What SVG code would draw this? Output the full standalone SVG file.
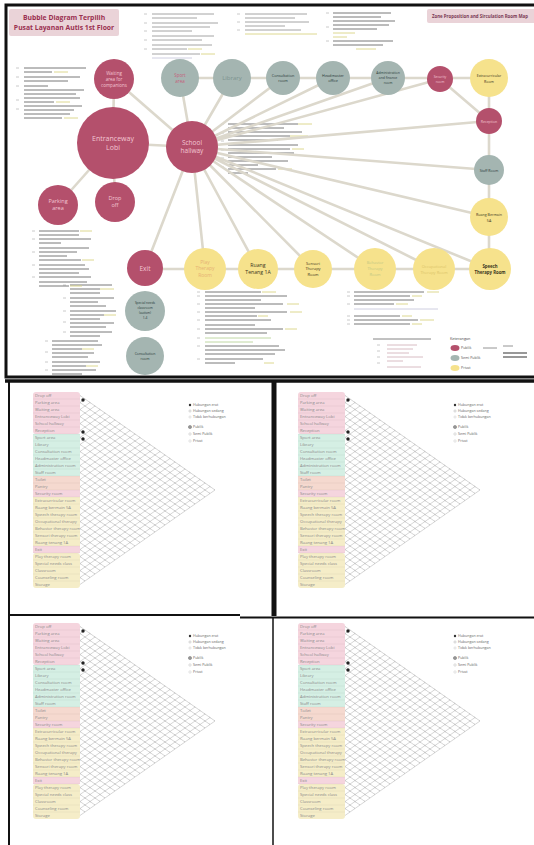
<svg xmlns="http://www.w3.org/2000/svg" width="534" height="845" viewBox="0 0 534 845">
<style>
.c{stroke:#dcd8cc;stroke-width:2.6;fill:none;stroke-linecap:round}
.pk{fill:#b4506c}
.gr{fill:#a4b5b1}
.yl{fill:#f6e28c}
text{font-family:"Open Sans","Liberation Sans",sans-serif;text-anchor:middle}
.tp{fill:#f3c6d3}
.tg{fill:#2b3b39}
.ty{fill:#3a3520}
.mt{stroke:#9a9a9a;stroke-width:0.9;fill:none}
.md{stroke:#6a6a6a;stroke-width:0.9;fill:none}
.mn{stroke:#c4c4c4;stroke-width:0.9;fill:none}
.hl{stroke:#d9d483;stroke-width:0.9;fill:none}
.ml{font-size:4.2px;fill:#8a8a8a;text-anchor:start}
.lg{font-size:3.6px;fill:#666;text-anchor:start}
</style>
<defs>
<g id="mx">
<rect x="33" y="392" width="47" height="42" rx="3" fill="#f5d5de"/>
<rect x="33" y="434" width="47" height="42" fill="#d5efe4"/>
<rect x="33" y="476" width="47" height="14" fill="#f5d9cf"/>
<rect x="33" y="490" width="47" height="7" fill="#f5d5de"/>
<rect x="33" y="497" width="47" height="49" fill="#f5edc8"/>
<rect x="33" y="546" width="47" height="7" fill="#f5d5de"/>
<rect x="33" y="553" width="47" height="35" rx="3" fill="#f5edc8"/>
<path d="M33 399h47M33 406h47M33 413h47M33 420h47M33 427h47M33 434h47M33 441h47M33 448h47M33 455h47M33 462h47M33 469h47M33 476h47M33 483h47M33 490h47M33 497h47M33 504h47M33 511h47M33 518h47M33 525h47M33 532h47M33 539h47M33 546h47M33 553h47M33 560h47M33 567h47M33 574h47M33 581h47" stroke="#000" stroke-opacity="0.08" stroke-width="0.5"/>
<text class="ml" x="35" y="397">Drop off</text>
<text class="ml" x="35" y="404">Parking area</text>
<text class="ml" x="35" y="411">Waiting area</text>
<text class="ml" x="35" y="418">Entranceway Lobi</text>
<text class="ml" x="35" y="425">School hallway</text>
<text class="ml" x="35" y="432">Reception</text>
<text class="ml" x="35" y="439">Sport area</text>
<text class="ml" x="35" y="446">Library</text>
<text class="ml" x="35" y="453">Consultation room</text>
<text class="ml" x="35" y="460">Headmaster office</text>
<text class="ml" x="35" y="467">Administration room</text>
<text class="ml" x="35" y="474">Staff room</text>
<text class="ml" x="35" y="481">Toilet</text>
<text class="ml" x="35" y="488">Pantry</text>
<text class="ml" x="35" y="495">Security room</text>
<text class="ml" x="35" y="502">Extracurricular room</text>
<text class="ml" x="35" y="509">Ruang bermain 5A</text>
<text class="ml" x="35" y="516">Speech therapy room</text>
<text class="ml" x="35" y="523">Occupational therapy</text>
<text class="ml" x="35" y="530">Behavior therapy room</text>
<text class="ml" x="35" y="537">Sensori therapy room</text>
<text class="ml" x="35" y="544">Ruang tenang 1A</text>
<text class="ml" x="35" y="551">Exit</text>
<text class="ml" x="35" y="558">Play therapy room</text>
<text class="ml" x="35" y="565">Special needs class</text>
<text class="ml" x="35" y="572">Classroom</text>
<text class="ml" x="35" y="579">Counseling room</text>
<text class="ml" x="35" y="586">Storage</text>
<path d="M80 395.5L215 490M80 402.5L210 493.5M80 409.5L205 497M80 416.5L200 500.5M80 423.5L195 504M80 430.5L190 507.5M80 437.5L185 511M80 444.5L180 514.5M80 451.5L175 518M80 458.5L170 521.5M80 465.5L165 525M80 472.5L160 528.5M80 479.5L155 532M80 486.5L150 535.5M80 493.5L145 539M80 500.5L140 542.5M80 507.5L135 546M80 514.5L130 549.5M80 521.5L125 553M80 528.5L120 556.5M80 535.5L115 560M80 542.5L110 563.5M80 549.5L105 567M80 556.5L100 570.5M80 563.5L95 574M80 570.5L90 577.5M80 577.5L85 581" id="dl" fill="none" stroke="#b4b4b4" stroke-width="0.55"/>
<path id="ul" d="M80 402.5L85 399M80 409.5L90 402.5M80 416.5L95 406M80 423.5L100 409.5M80 430.5L105 413M80 437.5L110 416.5M80 444.5L115 420M80 451.5L120 423.5M80 458.5L125 427M80 465.5L130 430.5M80 472.5L135 434M80 479.5L140 437.5M80 486.5L145 441M80 493.5L150 444.5M80 500.5L155 448M80 507.5L160 451.5M80 514.5L165 455M80 521.5L170 458.5M80 528.5L175 462M80 535.5L180 465.5M80 542.5L185 469M80 549.5L190 472.5M80 556.5L195 476M80 563.5L200 479.5M80 570.5L205 483M80 577.5L210 486.5M80 584.5L215 490" fill="none" stroke="#b4b4b4" stroke-width="0.55"/>
<use href="#dl" stroke="#606060" stroke-width="1" stroke-dasharray="1.6 4.5" stroke-dashoffset="0.8"/>
<circle cx="83" cy="400" r="1.7" fill="#222"/>
<circle cx="83" cy="432" r="1.7" fill="#222"/>
<circle cx="83" cy="439" r="1.7" fill="#222"/>
<circle cx="190" cy="405" r="1.2" fill="#333"/>
<text class="lg" x="193" y="406.3">Hubungan erat</text>
<circle cx="190" cy="411" r="1.1" fill="none" stroke="#999" stroke-width="0.4"/>
<text class="lg" x="193" y="412.3">Hubungan sedang</text>
<circle cx="190" cy="417" r="1.1" fill="none" stroke="#bbb" stroke-width="0.4"/>
<text class="lg" x="193" y="418.3">Tidak berhubungan</text>
<circle cx="190" cy="427" r="1.6" fill="#999" stroke="#555" stroke-width="0.4"/>
<text class="lg" x="193" y="428.3">Publik</text>
<circle cx="190" cy="434" r="1.2" fill="none" stroke="#aaa" stroke-width="0.4"/>
<text class="lg" x="193" y="435.3">Semi Publik</text>
<circle cx="190" cy="441" r="1.2" fill="none" stroke="#bbb" stroke-width="0.4"/>
<text class="lg" x="193" y="442.3">Privat</text>
</g>
</defs>
<rect width="534" height="845" fill="#fff"/>
<rect x="6" y="5" width="532" height="372" fill="#fff" stroke="#111" stroke-width="3"/>
<g id="title">
<rect x="9" y="9" width="110" height="27" rx="2" fill="#ead3d8"/>
<text x="64" y="20" font-size="6.8" font-weight="bold" fill="#9a3050">Bubble Diagram Terpilih</text>
<text x="64" y="30" font-size="6.8" font-weight="bold" fill="#9a3050">Pusat Layanan Autis 1st Floor</text>
</g>
<g id="zone-title">
<rect x="427" y="9" width="110" height="14" rx="2" fill="#ead3d8"/>
<text x="480" y="18" font-size="4.4" font-weight="bold" fill="#7a3a55">Zone Proposition and Sirculation Room Map</text>
</g>
<g id="notes">
<path class="mn" d="M144 14h3M144 23h3M144 31h3M144 40h3M144 49h3M237 14h3M237 22h3M237 30h3M326 13h3M326 27h3M326 41h3M16 68h3M16 77h3M16 86h3M16 100h3M16 109h3M32 231h3M32 239h3M32 252h3M32 265h3M32 277h3M63 285h3M63 298h3M63 311h3M63 322h3M63 332h3M45 341h3M45 352h3M45 362h3M45 370h3M221 124h3M221 133h3M221 141h3M221 150h3M221 158h3M221 167h3M197 292h3M197 296h3M197 304h3M197 312h3M197 320h3M197 329h3M197 338h3M197 346h3M197 359h3M347 292h3M347 296h3M347 304h3M347 316h3M347 320h3M347 324h3M377 345h3M377 351h3M377 357h3M377 363h3"/>
<path class="mt" d="M152 14h62M152 18h45M152 23h66M152 27h58M152 31h40M152 36h62M152 40h50M152 45h60M152 49h35M152 54h48M245 14h62M245 18h50M245 22h64M245 26h40M245 30h56"/>
<path class="md" d="M333 13h58M333 17h48M333 21h62M333 25h56M333 29h44M333 41h60M333 45h50"/>
<path class="md" d="M24 68h62M24 72h28M24 77h56M24 81h44M24 86h24M24 90h60M24 94h52M24 98h56M24 102h30M24 106h58M24 110h50M24 114h46M24 118h38"/>
<path class="md" d="M39 231h40M39 235h40M39 239h52M39 243h22M39 248h50M39 252h38M39 256h28M39 260h42M39 265h46M39 269h50M39 273h40M39 277h52M39 282h48M39 286h30"/>
<path class="md" d="M70 285h42M70 289h30M70 293h30M70 298h44M70 302h28M70 306h36M70 311h46M70 315h34M70 319h30M70 323h44M70 327h36M70 332h42M70 336h30"/>
<path class="md" d="M52 341h46M52 345h50M52 349h30M52 353h42M52 357h36M52 362h48M52 366h34M52 370h44M52 374h30"/>
<path class="md" d="M228 124h70M228 128h56M228 132h74M228 136h62M228 140h50M228 145h70M228 149h62M228 153h66M228 157h44M228 161h60M228 165h30M228 169h48M228 173h20"/>
<path class="md" d="M205 292h56M205 296h82M205 300h56M205 304h78M205 308h50M205 312h82M205 316h52M205 320h66M205 325h50M205 329h78M205 333h62M205 346h74M205 350h80M205 354h70M205 359h58M205 363h30"/>
<path class="md" d="M354 292h70M354 296h56M354 300h60M354 304h40M354 316h46M354 320h64M354 324h56"/>
<path stroke="#b9d49a" stroke-width="0.9" d="M205 338h66M205 342h48"/>
<path stroke="#c8c8dc" stroke-width="0.9" d="M354 309h84M152 58h40"/>
<path class="hl" d="M188 49h14M201 54h14M245 34h72M333 33h22M333 37h14M356 49h20M54 72h14M56 102h14M64 118h14M80 231h12M82 260h12M70 286h12M100 289h14M104 315h12M82 349h12M86 366h12M298 124h14M290 136h18M292 149h12M278 169h14M262 292h14M287 304h12M290 312h12M258 316h10M285 329h12M264 363h10M427 292h12M412 296h10M396 304h12M402 316h10M420 320h14M412 324h10"/>
</g>
<g id="legend">
<path stroke="#777" stroke-width="0.9" d="M373 339h58"/>
<path stroke="#d4b4bc" stroke-width="0.9" d="M387 345h30M387 349h26M387 353h22M387 357h36M387 361h16M387 367h34"/>
<text x="450" y="340" font-size="3.8" fill="#444" style="text-anchor:start">Keterangan</text>
<ellipse cx="455" cy="348" rx="4.5" ry="3" class="pk"/>
<ellipse cx="455" cy="358" rx="4.5" ry="3" class="gr"/>
<ellipse cx="455" cy="368" rx="4.5" ry="3" class="yl"/>
<text x="461" y="349.3" font-size="3.6" fill="#555" style="text-anchor:start">Publik</text>
<text x="461" y="359.3" font-size="3.6" fill="#555" style="text-anchor:start">Semi Publik</text>
<text x="461" y="369.3" font-size="3.6" fill="#555" style="text-anchor:start">Privat</text>
<path stroke="#888" stroke-width="0.9" d="M483 348h14M503 346h10"/>
<path stroke="#333" stroke-width="1.1" d="M503 353h24M503 357h24"/>
</g>
<g id="connectors">
<path class="c" d="M113 143L114 79M113 143L58 205M113 143L115 202M113 143L192 147M114 79L192 147"/>
<path class="c" d="M192 147L180 78M192 147L232 78M192 147L283 78M192 147L333 78M192 147L388 78M192 147L440 79M192 147L489 121M192 147L489 170M192 147L489 217M192 147L490 269M192 147L434 269M192 147L375 269M192 147L313 269M192 147L258 269M192 147L205 269M192 147L145 268"/>
<path class="c" d="M180 78H489M440 79L489 121M489 78V269M145 269H490"/>
</g>
<g id="n-waiting"><circle class="pk" cx="114" cy="79" r="20"/><text class="tp" font-size="4.5"><tspan x="114" y="75">Waiting</tspan><tspan x="114" y="81">area for</tspan><tspan x="114" y="87">companions</tspan></text></g>
<g id="n-lobi"><circle class="pk" cx="113" cy="143" r="36"/><text class="tp" font-size="7"><tspan x="113" y="141">Entranceway</tspan><tspan x="113" y="150">Lobi</tspan></text></g>
<g id="n-parking"><circle class="pk" cx="58" cy="205" r="20"/><text class="tp" font-size="5.5"><tspan x="58" y="203">Parking</tspan><tspan x="58" y="210">area</tspan></text></g>
<g id="n-dropoff"><circle class="pk" cx="115" cy="202" r="20"/><text class="tp" font-size="5.5"><tspan x="115" y="200">Drop</tspan><tspan x="115" y="207">off</tspan></text></g>
<g id="n-hallway"><circle class="pk" cx="192" cy="147" r="26"/><text class="tp" font-size="6.5"><tspan x="192" y="145">School</tspan><tspan x="192" y="153">hallway</tspan></text></g>
<g id="n-sport"><circle class="gr" cx="180" cy="78" r="19"/><text font-size="4.5" fill="#c4607c"><tspan x="180" y="77">Sport</tspan><tspan x="180" y="83">area</tspan></text></g>
<g id="n-library"><circle class="gr" cx="232" cy="78" r="19"/><text x="232" y="80" font-size="6" fill="#7d9490">Library</text></g>
<g id="n-consult"><circle class="gr" cx="283" cy="78" r="17"/><text class="tg" font-size="3.8"><tspan x="283" y="76.5">Consultation</tspan><tspan x="283" y="82">room</tspan></text></g>
<g id="n-headmaster"><circle class="gr" cx="333" cy="78" r="17"/><text class="tg" font-size="3.8"><tspan x="333" y="76.5">Headmaster</tspan><tspan x="333" y="82">office</tspan></text></g>
<g id="n-admin"><circle class="gr" cx="388" cy="78" r="17"/><text class="tg" font-size="3.4"><tspan x="388" y="74">Administration</tspan><tspan x="388" y="79">and finance</tspan><tspan x="388" y="84">room</tspan></text></g>
<g id="n-security"><circle class="pk" cx="440" cy="79" r="13"/><text class="tp" font-size="3.4"><tspan x="440" y="78">Security</tspan><tspan x="440" y="83">room</tspan></text></g>
<g id="n-extra"><circle class="yl" cx="489" cy="78" r="19"/><text class="ty" font-size="3.6"><tspan x="489" y="77">Extracurricular</tspan><tspan x="489" y="82.5">Room</tspan></text></g>
<g id="n-reception"><circle class="pk" cx="489" cy="121" r="13"/><text class="tp" x="489" y="122.5" font-size="3.5">Reception</text></g>
<g id="n-staff"><circle class="gr" cx="489" cy="170" r="15"/><text class="tg" x="489" y="171.5" font-size="3.6">Staff Room</text></g>
<g id="n-bermain"><circle class="yl" cx="489" cy="217" r="19"/><text class="ty" font-size="3.6"><tspan x="489" y="216">Ruang Bermain</tspan><tspan x="489" y="221.5">5A</tspan></text></g>
<g id="n-speech"><circle class="yl" cx="490" cy="269" r="21"/><text class="ty" font-size="4.3" font-weight="bold"><tspan x="490" y="267.5">Speech</tspan><tspan x="490" y="273.5">Therapy Room</tspan></text></g>
<g id="n-occupational"><circle class="yl" cx="434" cy="269" r="21"/><text font-size="4" fill="#dcc56a"><tspan x="434" y="267.5">Occupational</tspan><tspan x="434" y="273.5">Therapy Room</tspan></text></g>
<g id="n-behavior"><circle class="yl" cx="375" cy="269" r="21"/><text font-size="4" fill="#c3c884"><tspan x="375" y="264">Behavior</tspan><tspan x="375" y="270">Therapy</tspan><tspan x="375" y="276">Room</tspan></text></g>
<g id="n-sensori"><circle class="yl" cx="313" cy="269" r="19"/><text class="ty" font-size="4"><tspan x="313" y="264.5">Sensori</tspan><tspan x="313" y="270">Therapy</tspan><tspan x="313" y="275.5">Room</tspan></text></g>
<g id="n-tenang"><circle class="yl" cx="258" cy="269" r="20"/><text class="ty" font-size="5.2"><tspan x="258" y="266.5">Ruang</tspan><tspan x="258" y="274">Tenang 1A</tspan></text></g>
<g id="n-play"><circle class="yl" cx="205" cy="269" r="21"/><text font-size="5" fill="#e6b274"><tspan x="205" y="263.5">Play</tspan><tspan x="205" y="270">Therapy</tspan><tspan x="205" y="276.5">Room</tspan></text></g>
<g id="n-exit"><circle class="pk" cx="145" cy="268" r="18"/><text class="tp" x="145" y="270.5" font-size="6.5">Exit</text></g>
<g id="n-special"><circle class="gr" cx="145" cy="311" r="20"/><text class="tg" font-size="3.2"><tspan x="145" y="304">Special needs</tspan><tspan x="145" y="309">classroom</tspan><tspan x="145" y="314">(autism)</tspan><tspan x="145" y="319">1-4</tspan></text></g>
<g id="n-consult2"><circle class="gr" cx="145" cy="356" r="19"/><text class="tg" font-size="3.5"><tspan x="145" y="355">Consultation</tspan><tspan x="145" y="360">room</tspan></text></g>
<g id="panels">
<use href="#mx"/>
<use href="#mx" transform="translate(265 0)"/>
<use href="#mx" transform="translate(0 231)"/>
<use href="#mx" transform="translate(265 231)"/>
</g>
<g id="frames" stroke="#111" fill="none">
<path d="M5 381H534" stroke-width="3.5"/>
<path d="M9 380V845" stroke-width="2"/>
<path d="M274 380V616" stroke-width="5"/>
<path d="M8 615H240M240 617.5H534" stroke-width="2"/>
<path d="M273 617V845" stroke-width="1.5"/>
</g>
</svg>
